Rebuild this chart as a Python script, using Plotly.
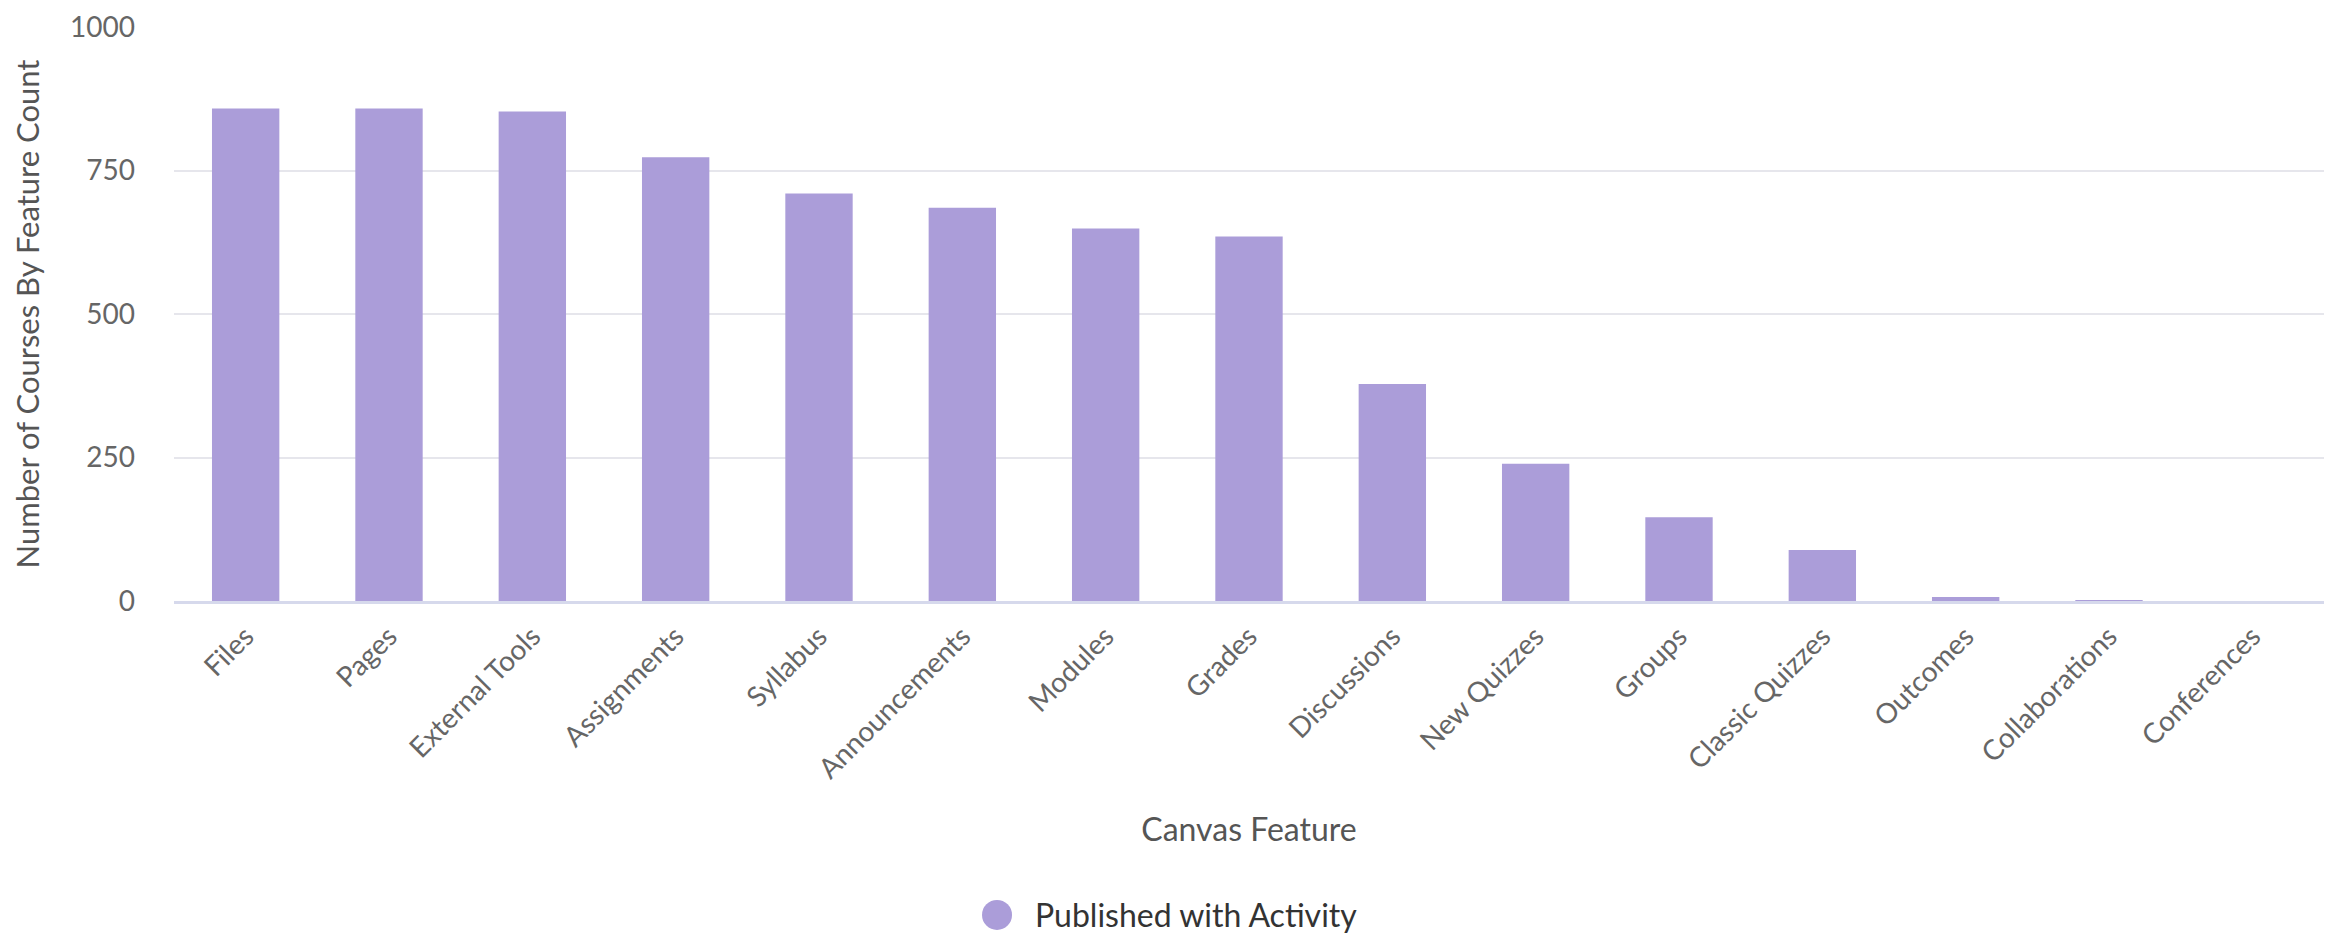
import plotly.graph_objects as go

features = ["Files", "Pages", "External Tools", "Assignments", "Syllabus",
            "Announcements", "Modules", "Grades", "Discussions", "New Quizzes",
            "Groups", "Classic Quizzes", "Outcomes", "Collaborations", "Conferences"]
course_counts = [858, 858, 853, 773, 710, 685, 649, 635, 378, 239, 146, 89, 7, 1, 0]
series_name = "Published with Activity"
y_ticks = [0, 250, 500, 750, 1000]

BAR = "#ab9dd9"
FONT = "Lato, 'Open Sans', sans-serif"

fig = go.Figure()
fig.add_trace(go.Bar(
    x=features, y=course_counts, name=series_name,
    marker=dict(color=BAR, line=dict(width=0)),
    showlegend=False,
))

# page body adds an 8px offset, so the figure is 8px smaller
fig.update_layout(
    width=2325, height=930,
    margin=dict(l=166, r=9, t=19, b=337, autoexpand=False),
    paper_bgcolor="white", plot_bgcolor="white",
    bargap=0.53,
    font=dict(family=FONT, size=28, color="#666666"),
    xaxis=dict(
        tickangle=-45, showgrid=False, ticks="", showline=True,
        linecolor="#d6d9ec", linewidth=3,
        tickfont=dict(size=28, color="#666666"),
        ticklabelstandoff=5,
        title=dict(text="Canvas Feature", font=dict(size=32, color="#555555"), standoff=36),
        automargin=False,
    ),
    yaxis=dict(
        range=[0, 1000], tickvals=y_ticks, ticktext=[str(v) for v in y_ticks],
        showgrid=True, gridcolor="#e6e6ec", gridwidth=2,
        zeroline=False, showline=False, ticks="",
        ticklabelstandoff=38,
        tickfont=dict(size=28, color="#666666"),
        title=dict(text="Number of Courses By Feature Count", font=dict(size=31, color="#555555"), standoff=22),
        automargin=False,
    ),
)

# Legend drawn as a circle marker plus label
fig.add_shape(type="circle", xref="paper", yref="paper",
              xsizemode="pixel", ysizemode="pixel",
              xanchor=0.3828, yanchor=-0.547,
              x0=-15, x1=15, y0=-15, y1=15,
              fillcolor=BAR, line=dict(width=0))
fig.add_annotation(text=series_name, xref="paper", yref="paper",
                   x=0.3995, y=-0.547, xanchor="left", yanchor="middle",
                   showarrow=False, font=dict(size=32, color="#333333", family=FONT))

fig.write_html("out.html")
